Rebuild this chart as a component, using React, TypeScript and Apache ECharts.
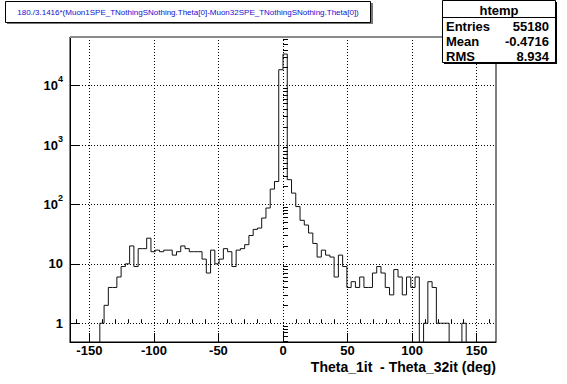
import React, { useEffect, useRef } from "react";
import * as echarts from "echarts";

// ---- data ----
const X_MIN = -165;
const X_MAX = 165;
const N_BINS = 100;
const Y_MIN = 0.483;
const Y_MAX = 65800;

const counts = [
  0, 0, 0, 0, 0, 0, 0, 1, 2, 4,
  4, 6, 9, 10, 20, 9, 18, 18, 27, 16,
  17, 16, 17, 17, 14, 16, 20, 18, 16, 16,
  16, 12, 7, 17, 10, 12, 18, 16, 9, 17,
  18, 21, 30, 38, 40, 59, 87, 181, 243, 18500,
  34000, 261, 155, 92, 54, 45, 33, 22, 13, 17,
  14, 13, 6, 14, 9, 4, 5, 4, 6, 4,
  4, 7, 9, 7, 4, 3, 8, 6, 3, 6,
  4, 6, 0, 1, 5, 4, 1, 1, 1, 0,
  0, 0, 1, 0, 0, 0, 0, 0, 0, 0,
];

const xMajorTicks = [-150, -100, -50, 0, 50, 100, 150];
const xTickLabels = ["-150", "-100", "-50", "0", "50", "100", "150"];
const xMinorTicks = [
  -160, -140, -130, -120, -110, -90, -80, -70, -60, -40, -30, -20, -10,
  10, 20, 30, 40, 60, 70, 80, 90, 110, 120, 130, 140, 160,
];
const yDecades = [1, 10, 100, 1000, 10000];
const yTickLabels = ["1", "10", "10^2", "10^3", "10^4"];
const yMinorTicks = [
  0.5, 0.6, 0.7, 0.8, 0.9,
  2, 3, 4, 5, 6, 7, 8, 9,
  20, 30, 40, 50, 60, 70, 80, 90,
  200, 300, 400, 500, 600, 700, 800, 900,
  2000, 3000, 4000, 5000, 6000, 7000, 8000, 9000,
  20000, 30000, 40000, 50000, 60000,
];

const titleText =
  "180./3.1416*(Muon1SPE_TNothingSNothing.Theta[0]-Muon32SPE_TNothingSNothing.Theta[0])";
const xAxisTitle = "Theta_1it  - Theta_32it (deg)";
const statsName = "htemp";
const statsRows = [
  ["Entries", "55180"],
  ["Mean", "-0.4716"],
  ["RMS", "8.934"],
];

const FONT = "Liberation Sans";

export default function App() {
  const ref = useRef<HTMLDivElement>(null);

  useEffect(() => {
    if (!ref.current) return;
    const chart = echarts.init(ref.current, undefined, { renderer: "svg" });
    const lg = (v: number) => Math.log10(v);
    const yLo = lg(Y_MIN);
    const yHi = lg(Y_MAX);
    const binW = (X_MAX - X_MIN) / N_BINS;

    const pts: number[][] = [];
    counts.forEach((c, k) => {
      const y = c > 0 ? lg(c) : yLo - 2;
      pts.push([X_MIN + k * binW, y]);
      pts.push([X_MIN + (k + 1) * binW, y]);
    });

    const yMajorVals = yDecades.map(lg);
    const yMinorVals = yMinorTicks.map(lg);

    const yFormatter = (v: number) => {
      const i = yMajorVals.findIndex((m) => Math.abs(m - v) < 1e-6);
      if (i < 0) return "";
      const s = yTickLabels[i];
      if (s.includes("^")) {
        const [b, e] = s.split("^");
        return "{b|" + b + "}{s|" + e + "}";
      }
      return "{b|" + s + "}";
    };
    const xFormatter = (v: number) => {
      const i = xMajorTicks.findIndex((m) => Math.abs(m - v) < 1e-6);
      return i < 0 ? "" : xTickLabels[i];
    };

    const dotted = { color: "#000", type: [1, 2] as any, width: 1 };

    const statsGraphics: any[] = [
      {
        type: "rect",
        shape: { x: 444, y: 2, width: 113, height: 62 },
        style: { fill: "#000" },
        z: 100,
      },
      {
        type: "rect",
        shape: { x: 442.5, y: 0.5, width: 113, height: 62 },
        style: { fill: "#fff", stroke: "#000", lineWidth: 1 },
        z: 101,
      },
      {
        type: "line",
        shape: { x1: 442.5, y1: 17.5, x2: 555.5, y2: 17.5 },
        style: { stroke: "#000", lineWidth: 1 },
        z: 102,
      },
      {
        type: "text",
        x: 499,
        y: 10,
        style: {
          text: statsName,
          fontFamily: FONT,
          fontWeight: "bold",
          fontSize: 13,
          fill: "#000",
          align: "center",
          verticalAlign: "middle",
        },
        z: 102,
      },
    ];
    statsRows.forEach((r, i) => {
      const y = 26 + i * 15;
      statsGraphics.push({
        type: "text",
        x: 446,
        y,
        style: {
          text: r[0],
          fontFamily: FONT,
          fontWeight: "bold",
          fontSize: 13,
          fill: "#000",
          align: "left",
          verticalAlign: "middle",
        },
        z: 102,
      });
      statsGraphics.push({
        type: "text",
        x: 549,
        y,
        style: {
          text: r[1],
          fontFamily: FONT,
          fontWeight: "bold",
          fontSize: 13,
          fill: "#000",
          align: "right",
          verticalAlign: "middle",
        },
        z: 102,
      });
    });

    const option: any = {
      animation: false,
      backgroundColor: "#fff",
      textStyle: { fontFamily: FONT },
      grid: {
        left: 70,
        top: 37,
        width: 426,
        height: 305,
        show: true,
        borderColor: "#000",
        borderWidth: 1,
        backgroundColor: "transparent",
        containLabel: false,
        outerBoundsMode: "none",
      },
      xAxis: [
        {
          type: "value",
          min: X_MIN,
          max: X_MAX,
          position: "bottom",
          axisLine: { show: true, onZero: false, lineStyle: { color: "#000", width: 1 } },
          axisTick: {
            show: true,
            inside: true,
            length: 9,
            customValues: xMajorTicks,
            lineStyle: { color: "#000", width: 1 },
          },
          axisLabel: {
            customValues: xMajorTicks,
            formatter: xFormatter,
            fontFamily: FONT,
            fontWeight: "bold",
            fontSize: 13,
            lineHeight: 13,
            color: "#000",
            margin: 2,
          },
          splitLine: { show: true, lineStyle: dotted },
        },
        {
          type: "value",
          min: X_MIN,
          max: X_MAX,
          position: "bottom",
          axisLine: { show: false },
          axisTick: {
            show: true,
            inside: true,
            length: 4,
            customValues: xMinorTicks,
            lineStyle: { color: "#000", width: 1 },
          },
          axisLabel: { show: false },
          splitLine: { show: false },
        },
      ],
      yAxis: [
        {
          type: "value",
          min: yLo,
          max: yHi,
          position: "left",
          axisLine: { show: true, onZero: false, lineStyle: { color: "#000", width: 1 } },
          axisTick: {
            show: true,
            inside: true,
            length: 9,
            customValues: yMajorVals,
            lineStyle: { color: "#000", width: 1 },
          },
          axisLabel: {
            customValues: yMajorVals,
            formatter: yFormatter,
            margin: 7,
            rich: {
              b: {
                fontFamily: FONT,
                fontWeight: "bold",
                fontSize: 13,
                color: "#000",
                lineHeight: 22,
              },
              s: {
                fontFamily: FONT,
                fontWeight: "bold",
                fontSize: 9,
                color: "#000",
                verticalAlign: "top",
              },
            },
          },
          splitLine: { show: true, lineStyle: dotted },
        },
        {
          type: "value",
          min: yLo,
          max: yHi,
          position: "left",
          axisLine: { show: false },
          axisTick: {
            show: true,
            inside: true,
            length: 5,
            customValues: yMinorVals,
            lineStyle: { color: "#000", width: 1 },
          },
          axisLabel: { show: false },
          splitLine: { show: false },
        },
      ],
      series: [
        {
          type: "line",
          xAxisIndex: 0,
          yAxisIndex: 0,
          data: pts,
          symbol: "none",
          clip: true,
          lineStyle: { color: "#111", width: 1 },
          z: 5,
        },
      ],
      graphic: [
        {
          type: "line",
          shape: { x1: 70, y1: 37, x2: 496, y2: 37 },
          style: { stroke: "#8a8a8a", lineWidth: 2 },
          z: 50,
        },
        {
          type: "text",
          x: 496,
          y: 367,
          style: {
            text: xAxisTitle,
            fontFamily: FONT,
            fontWeight: "bold",
            fontSize: 14,
            lineHeight: 14,
            fill: "#000",
            align: "right",
            verticalAlign: "middle",
          },
          z: 60,
        },
        {
          type: "rect",
          shape: { x: 7, y: 3, width: 366, height: 21 },
          style: { fill: "#777" },
          z: 100,
        },
        {
          type: "rect",
          shape: { x: 5.5, y: 1.5, width: 365, height: 21 },
          style: { fill: "#fff", stroke: "#000", lineWidth: 1 },
          z: 101,
        },
        {
          type: "text",
          x: 188,
          y: 12,
          style: {
            text: titleText,
            fontFamily: FONT,
            fontSize: 8,
            fill: "#1010d0",
            align: "center",
            verticalAlign: "middle",
          },
          z: 102,
        },
        ...statsGraphics,
      ],
    };
    chart.setOption(option);
    return () => chart.dispose();
  }, []);

  return (
    <div
      ref={ref}
      style={{ position: "fixed", left: 0, top: 0, width: 567, height: 384, background: "#fff" }}
    />
  );
}
